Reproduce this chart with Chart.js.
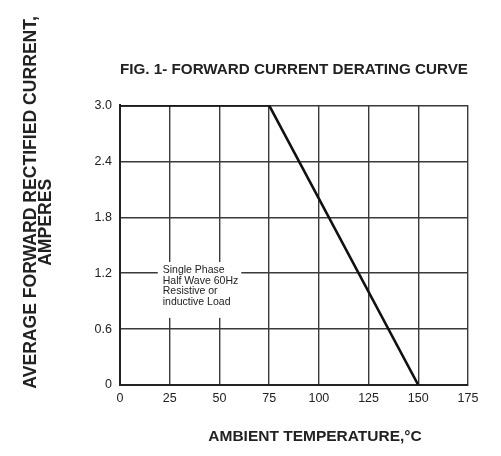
<!DOCTYPE html>
<html>
<head>
<meta charset="utf-8">
<script src="https://cdn.jsdelivr.net/npm/chart.js@4/dist/chart.umd.min.js"></script>
<style>
  html, body { margin: 0; padding: 0; background: #fff; }
  #wrap { width: 501px; height: 456px; position: relative; }
</style>
</head>
<body>
<div id="wrap"><canvas id="c"></canvas></div>
<script>
// ---- data ----
const temperatures = [0, 75, 150];          // ambient temperature, °C
const currents = [3.0, 3.0, 0];             // average forward rectified current, A
const xTickLabels = ['0', '25', '50', '75', '100', '125', '150', '175'];
const yTickLabels = ['0', '0.6', '1.2', '1.8', '2.4', '3.0'];
const chartTitle = 'FIG. 1- FORWARD CURRENT DERATING CURVE';
const xTitle = 'AMBIENT TEMPERATURE,\u00B0C';
const yTitleLines = ['AVERAGE FORWARD RECTIFIED CURRENT,', 'AMPERES'];
const noteLines = ['Single Phase', 'Half Wave 60Hz', 'Resistive or', 'inductive Load'];

const FONT = '"Liberation Sans", Arial, Helvetica, sans-serif';
const INK = '#222';

const axisTitlesPlugin = {
  id: 'axisTitles',
  afterDraw(chart) {
    const ctx = chart.ctx;
    const a = chart.chartArea;
    ctx.save();
    ctx.fillStyle = INK;
    ctx.font = 'bold 17.6px ' + FONT;
    ctx.textAlign = 'center';
    ctx.textBaseline = 'middle';
    // y title (rotated)
    const yc = [a.top + 97, a.top + 117];
    const xc = [31, 46];
    yTitleLines.forEach((t, i) => {
      ctx.save();
      ctx.translate(xc[i], yc[i]);
      ctx.rotate(-Math.PI / 2);
      ctx.fillText(t, 0, 0);
      ctx.restore();
    });
    // x title
    ctx.font = 'bold 15.5px ' + FONT;
    ctx.fillText(xTitle, (a.left + a.right) / 2 + 21, a.bottom + 52);
    ctx.restore();
  }
};

const notePlugin = {
  id: 'note',
  beforeDatasetsDraw(chart) {
    const ctx = chart.ctx;
    const xs = chart.scales.x, ys = chart.scales.y;
    const left = xs.getPixelForValue(19), right = xs.getPixelForValue(61);
    const top = ys.getPixelForValue(1.32), bottom = ys.getPixelForValue(0.72);
    ctx.save();
    ctx.fillStyle = '#fff';
    ctx.fillRect(left, top, right - left, bottom - top);
    ctx.fillStyle = INK;
    ctx.font = '10.5px ' + FONT;
    ctx.textAlign = 'left';
    ctx.textBaseline = 'middle';
    const tx = xs.getPixelForValue(21.5);
    const ty = ys.getPixelForValue(1.235);
    noteLines.forEach((t, i) => ctx.fillText(t, tx, ty + i * 10.8));
    ctx.restore();
  }
};

new Chart(document.getElementById('c'), {
  type: 'line',
  data: {
    datasets: [{
      data: temperatures.map((t, i) => ({ x: t, y: currents[i] })),
      borderColor: '#111',
      borderWidth: 2.6,
      pointRadius: 0,
      tension: 0,
      fill: false
    }]
  },
  options: {
    responsive: true,
    maintainAspectRatio: false,
    animation: false,
    layout: { padding: { left: 0, right: 33, top: 0, bottom: 0 } },
    plugins: {
      legend: { display: false },
      tooltip: { enabled: false },
      title: {
        display: true,
        text: chartTitle,
        fullSize: false,
        color: INK,
        font: { family: FONT, size: 15.3, weight: 'bold', lineHeight: 1.2 },
        padding: { top: 61, bottom: 26 }
      }
    },
    scales: {
      x: {
        type: 'linear',
        min: 0, max: 175,
        afterFit: s => { s.height = 71; },
        ticks: {
          stepSize: 25,
          padding: 6,
          color: INK,
          font: { family: FONT, size: 12.5 },
          maxRotation: 0,
          callback: (v, i) => xTickLabels[i]
        },
        grid: { color: '#3a3a3a', lineWidth: 1.4, drawTicks: false },
        border: { display: true, color: '#222', width: 2 }
      },
      y: {
        type: 'linear',
        min: 0, max: 3,
        afterFit: s => { s.width = 120; },
        ticks: {
          stepSize: 0.6,
          padding: 8,
          color: INK,
          font: { family: FONT, size: 12.5 },
          callback: (v, i) => yTickLabels[i]
        },
        grid: { color: '#3a3a3a', lineWidth: 1.4, drawTicks: false },
        border: { display: true, color: '#222', width: 2 }
      }
    }
  },
  plugins: [notePlugin, axisTitlesPlugin]
});
</script>
</body>
</html>
